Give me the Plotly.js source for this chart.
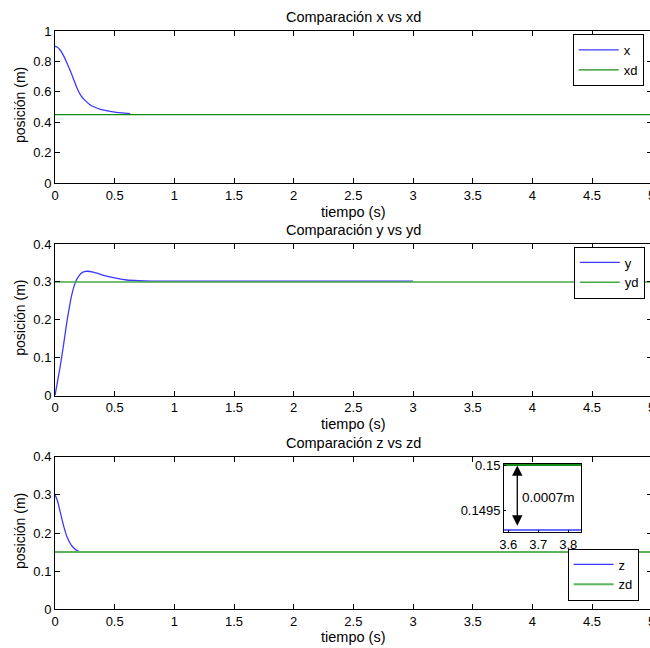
<!DOCTYPE html>
<html>
<head>
<meta charset="utf-8">
<script src="https://cdn.plot.ly/plotly-3.0.1.min.js"></script>
<style>html,body{margin:0;padding:0;overflow:hidden;background:#fff;}</style>
</head>
<body>
<div id="chart"></div>
<script>
// ---- data ----
var tX = [0, 0.02, 0.04, 0.06, 0.08, 0.1, 0.13, 0.16, 0.19, 0.22, 0.25, 0.29, 0.33, 0.38, 0.43, 0.5, 0.56, 0.63];
var xVals = [0.9, 0.893, 0.878, 0.855, 0.825, 0.79, 0.735, 0.675, 0.615, 0.572, 0.545, 0.517, 0.5, 0.485, 0.476, 0.467, 0.461, 0.457];
var tXd = [0, 5];
var xdVals = [0.45, 0.45];

var tY = [0, 0.02, 0.04, 0.07, 0.1, 0.14, 0.17, 0.2, 0.23, 0.265, 0.32, 0.38, 0.45, 0.52, 0.6, 0.7, 0.8, 1.0, 1.5, 2.0, 2.5, 3.0];
var yVals = [0, 0.035, 0.07, 0.13, 0.195, 0.265, 0.298, 0.316, 0.325, 0.328, 0.326, 0.32, 0.314, 0.309, 0.305, 0.303, 0.302, 0.302, 0.302, 0.302, 0.302, 0.302];
var tYd = [0, 5];
var ydVals = [0.3, 0.3];

var tZ = [0, 0.02, 0.04, 0.06, 0.08, 0.1, 0.12, 0.14, 0.16, 0.18, 0.2, 0.22];
var zVals = [0.3, 0.285, 0.26, 0.234, 0.21, 0.19, 0.177, 0.167, 0.16, 0.155, 0.152, 0.151];
var tZd = [0, 5];
var zdVals = [0.15, 0.15];

// zoomed detail (inset)
var tZoom = [3.5, 3.9];
var zZoom = [0.14929, 0.14929];
var zdZoom = [0.15, 0.15];

var xTicks = [0, 0.5, 1, 1.5, 2, 2.5, 3, 3.5, 4, 4.5, 5];
var xTickText = ['0', '0.5', '1', '1.5', '2', '2.5', '3', '3.5', '4', '4.5', '5'];
var y1Ticks = [0, 0.2, 0.4, 0.6, 0.8, 1];
var y1TickText = ['0', '0.2', '0.4', '0.6', '0.8', '1'];
var y23Ticks = [0, 0.1, 0.2, 0.3, 0.4];
var y23TickText = ['0', '0.1', '0.2', '0.3', '0.4'];
var insetXTicks = [3.6, 3.7, 3.8];
var insetXTickText = ['3.6', '3.7', '3.8'];
var insetYTicks = [0.1495, 0.15];
var insetYTickText = ['0.1495', '0.15'];

var titles = ['Comparación x vs xd', 'Comparación y vs yd', 'Comparación z vs zd'];
var xLabel = 'tiempo (s)';
var yLabel = 'posición (m)';
var diffLabel = '0.0007m';

// ---- layout helpers (pixel based, margins = 0) ----
var W = 660, H = 648;
var FONT = '"Liberation Sans", Arial, Helvetica, sans-serif';
var BLUE = '#3a3aff';
function px(x) { return x / W; }
function py(y) { return 1 - y / H; }

var plotL = 55, plotR = 651.7;
var rows = [[31, 183], [244, 395.5], [456.7, 609.3]];

var data = [
  {x: tX, y: xVals, type: 'scatter', mode: 'lines', name: 'x', line: {color: BLUE, width: 1.3, shape: 'spline', smoothing: 0.6}, xaxis: 'x', yaxis: 'y', legend: 'legend'},
  {x: tXd, y: xdVals, type: 'scatter', mode: 'lines', name: 'xd', line: {color: '#168a16', width: 1.3}, xaxis: 'x', yaxis: 'y', legend: 'legend'},
  {x: tY, y: yVals, type: 'scatter', mode: 'lines', name: 'y', line: {color: BLUE, width: 1.3, shape: 'spline', smoothing: 0.6}, xaxis: 'x2', yaxis: 'y2', legend: 'legend2'},
  {x: tYd, y: ydVals, type: 'scatter', mode: 'lines', name: 'yd', line: {color: '#45a845', width: 1.5}, xaxis: 'x2', yaxis: 'y2', legend: 'legend2'},
  {x: tZ, y: zVals, type: 'scatter', mode: 'lines', name: 'z', line: {color: BLUE, width: 1.3, shape: 'spline', smoothing: 0.6}, xaxis: 'x3', yaxis: 'y3', legend: 'legend3'},
  {x: tZd, y: zdVals, type: 'scatter', mode: 'lines', name: 'zd', line: {color: '#5cb55c', width: 2}, xaxis: 'x3', yaxis: 'y3', legend: 'legend3'},
  {x: tZoom, y: zZoom, type: 'scatter', mode: 'lines', name: 'z', line: {color: BLUE, width: 1.5}, xaxis: 'x4', yaxis: 'y4', showlegend: false},
  {x: tZoom, y: zdZoom, type: 'scatter', mode: 'lines', name: 'zd', line: {color: '#168a16', width: 2}, xaxis: 'x4', yaxis: 'y4', showlegend: false}
];

function axisBase(anchor, dom, rng, tv, tt) {
  return {anchor: anchor, domain: dom, range: rng, tickvals: tv, ticktext: tt,
    showline: true, linecolor: '#000', linewidth: 1, mirror: 'ticks', ticks: 'inside', ticklen: 5,
    tickcolor: '#000', showgrid: false, zeroline: false, fixedrange: true,
    tickfont: {family: FONT, size: 13, color: '#000'}};
}

var xdom = [px(plotL), px(plotR)];
var legendFont = {family: FONT, size: 13, color: '#000'};
var layout = {
  width: W, height: H,
  margin: {l: 0, r: 0, t: 0, b: 0, pad: 0},
  paper_bgcolor: '#fff', plot_bgcolor: 'rgba(0,0,0,0)',
  font: {family: FONT, size: 13, color: '#000'},
  showlegend: true,
  xaxis: axisBase('y', xdom, [0, 5], xTicks, xTickText),
  yaxis: axisBase('x', [py(rows[0][1]), py(rows[0][0])], [0, 1], y1Ticks, y1TickText),
  xaxis2: axisBase('y2', xdom, [0, 5], xTicks, xTickText),
  yaxis2: axisBase('x2', [py(rows[1][1]), py(rows[1][0])], [0, 0.4], y23Ticks, y23TickText),
  xaxis3: axisBase('y3', xdom, [0, 5], xTicks, xTickText),
  yaxis3: axisBase('x3', [py(rows[2][1]), py(rows[2][0])], [0, 0.4], y23Ticks, y23TickText),
  xaxis4: Object.assign(axisBase('y4', [px(504), px(581)], [3.5857, 3.8423], insetXTicks, insetXTickText), {mirror: true, ticklen: 2}),
  yaxis4: Object.assign(axisBase('x4', [py(532.3), py(464)], [0.149264, 0.150011], insetYTicks, insetYTickText), {mirror: true, ticklen: 2}),
  legend: {x: px(572.7), y: py(34), xanchor: 'left', yanchor: 'top', bgcolor: '#fff', bordercolor: '#000', borderwidth: 1, font: legendFont, itemwidth: 40},
  legend2: {x: px(573.8), y: py(246.5), xanchor: 'left', yanchor: 'top', bgcolor: '#fff', bordercolor: '#000', borderwidth: 1, font: legendFont, itemwidth: 40},
  legend3: {x: px(567.6), y: py(548.5), xanchor: 'left', yanchor: 'top', bgcolor: '#fff', bordercolor: '#000', borderwidth: 1, font: legendFont, itemwidth: 40},
  annotations: []
};

var titleY = [17, 230, 443];
var xlabY = [212, 424, 637];
for (var i = 0; i < 3; i++) {
  layout.annotations.push({xref: 'paper', yref: 'paper', x: px((plotL + plotR) / 2), y: py(titleY[i]), xanchor: 'center', yanchor: 'middle', text: titles[i], showarrow: false, font: {family: FONT, size: 14.5, color: '#000'}});
  layout.annotations.push({xref: 'paper', yref: 'paper', x: px((plotL + plotR) / 2), y: py(xlabY[i]), xanchor: 'center', yanchor: 'middle', text: xLabel, showarrow: false, font: {family: FONT, size: 14.5, color: '#000'}});
  layout.annotations.push({xref: 'paper', yref: 'paper', x: px(20), y: py((rows[i][0] + rows[i][1]) / 2 - 2), xanchor: 'center', yanchor: 'middle', text: yLabel, textangle: -90, showarrow: false, font: {family: FONT, size: 14, color: '#000'}});
}
// double arrow + label in inset
layout.annotations.push({xref: 'x4', yref: 'y4', axref: 'x4', ayref: 'y4', x: 3.63, y: 0.149995, ax: 3.63, ay: 0.14932, text: '', showarrow: true, arrowhead: 2, startarrowhead: 2, arrowside: 'end+start', arrowsize: 1.6, startarrowsize: 1.6, arrowwidth: 1.3, arrowcolor: '#000'});
layout.annotations.push({xref: 'x4', yref: 'y4', x: 3.734, y: 0.14965, text: diffLabel, showarrow: false, xanchor: 'center', yanchor: 'middle', font: {family: FONT, size: 13.5, color: '#000'}});

Plotly.newPlot('chart', data, layout, {staticPlot: true, displayModeBar: false});
</script>
</body>
</html>
